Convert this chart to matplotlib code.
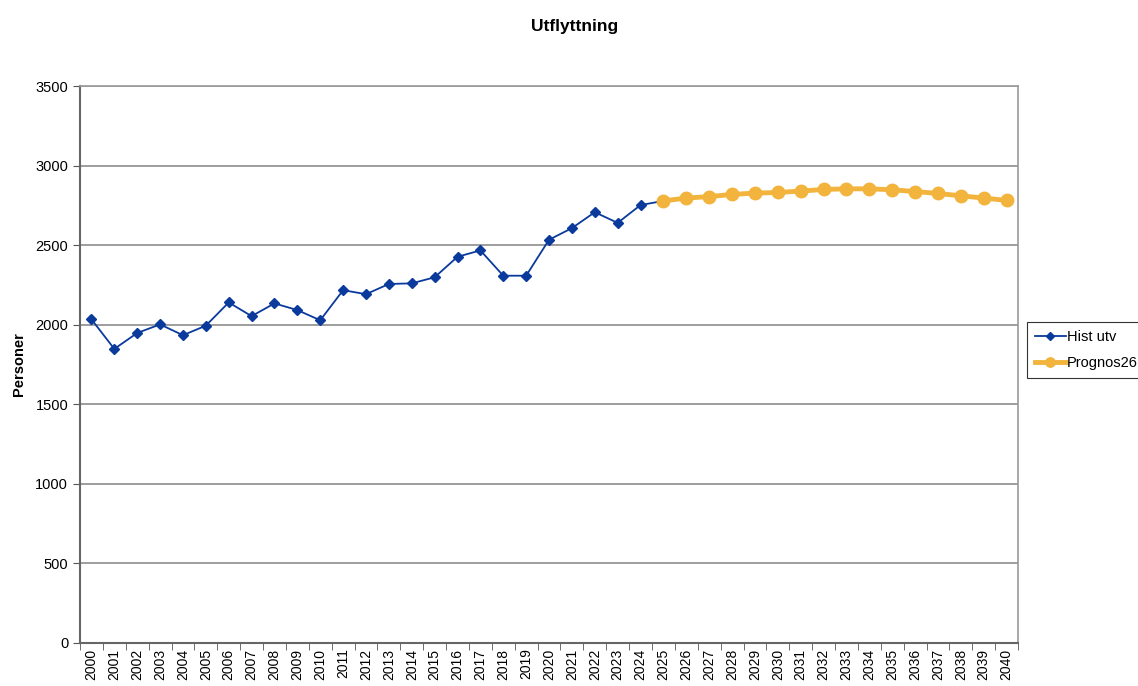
import matplotlib.pyplot as plt
import numpy as np

years = list(range(2000, 2041))
hist_years = list(range(2000, 2026))
hist_utv = [2034, 1848, 1948, 2002, 1934, 1994, 2140, 2054, 2134, 2092,
            2028, 2217, 2192, 2256, 2260, 2298, 2427, 2467, 2308, 2308,
            2534, 2607, 2707, 2640, 2752, 2778]
prog_years = list(range(2025, 2041))
prognos26 = [2778, 2796, 2805, 2819, 2827, 2831, 2840, 2850, 2854, 2854,
             2848, 2837, 2825, 2810, 2796, 2781]

plt.rcParams['font.family'] = ['Liberation Sans', 'DejaVu Sans']

fig = plt.figure(figsize=(11.38, 6.86), dpi=100)
ax = fig.add_axes([0.0703, 0.0627, 0.8243, 0.8119])

xh = [years.index(y) for y in hist_years]
xp = [years.index(y) for y in prog_years]

ax.plot(xh, hist_utv, color='#0a3a9c', lw=1.3, marker='D', ms=5.5,
        label='Hist utv', zorder=3)
ax.plot(xp, prognos26, color='#f2b43c', lw=3.5, marker='o', ms=9,
        label='Prognos26', zorder=4)

ax.set_xlim(-0.5, len(years) - 0.5)
ax.set_ylim(0, 3500)
ax.set_yticks(np.arange(0, 3501, 500))
ax.set_xticks(range(len(years)))
ax.set_xticklabels([str(y) for y in years], rotation=90, fontsize=10)
ax.set_xticks(np.arange(-0.5, len(years), 1), minor=True)
ax.tick_params(axis='x', which='major', length=0, pad=4)
ax.tick_params(axis='x', which='minor', length=5, direction='out', color='#555555')
ax.tick_params(axis='y', length=5, direction='out', color='#555555', labelsize=10.5)
ax.grid(axis='y', color='#8c8c8c', lw=1.2)
ax.set_axisbelow(True)

for s in ['left', 'bottom']:
    ax.spines[s].set_color('#666666')
    ax.spines[s].set_linewidth(1.5)
for s in ['top', 'right']:
    ax.spines[s].set_color('#999999')
    ax.spines[s].set_linewidth(1.2)

ax.set_ylabel('Personer', fontsize=10.5, fontweight='bold', labelpad=7)
fig.suptitle('Utflyttning', fontsize=12.5, fontweight='bold', x=0.505, y=0.972)

leg = fig.legend(loc='upper left', bbox_to_anchor=(0.9025, 0.531),
                 fontsize=10.5, frameon=True, fancybox=False, edgecolor='black',
                 handlelength=2.1, borderpad=0.55, labelspacing=0.85,
                 handletextpad=0.1, markerscale=0.75, borderaxespad=0)
leg.get_frame().set_linewidth(0.8)

fig.savefig('out.png', dpi=100)
